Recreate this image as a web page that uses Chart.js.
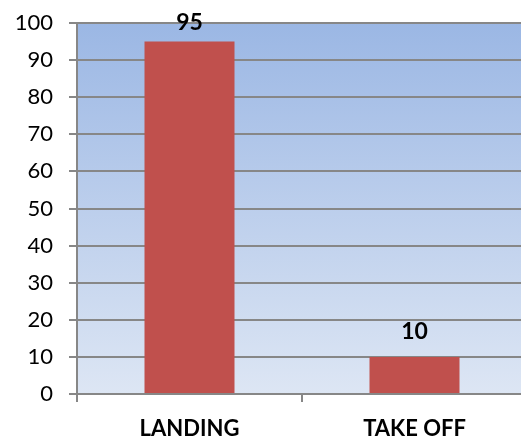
<!DOCTYPE html>
<html>
<head>
<meta charset="utf-8">
<script src="https://cdn.jsdelivr.net/npm/chart.js@4.4.0/dist/chart.umd.min.js"></script>
<style>
  html, body { margin: 0; padding: 0; overflow: hidden; background: #fff; }
  #wrap { position: relative; width: 530px; height: 439px; }
</style>
</head>
<body>
<div id="wrap"><canvas id="c"></canvas></div>
<script>
const categories = ['LANDING', 'TAKE OFF'];
const values = [95, 10];
const yTicks = [0, 10, 20, 30, 40, 50, 60, 70, 80, 90, 100];

const gridGray = '#878787';

// Blue vertical gradient behind the plot area
const plotBackground = {
  id: 'plotBackground',
  beforeDraw(chart) {
    const { ctx, chartArea: a } = chart;
    const g = ctx.createLinearGradient(0, a.top, 0, a.bottom);
    g.addColorStop(0, '#9bb7e4');
    g.addColorStop(1, '#dde6f4');
    ctx.save();
    ctx.fillStyle = g;
    ctx.fillRect(a.left, a.top, a.right - a.left, a.bottom - a.top);
    ctx.restore();
  }
};

// Bold value labels above each bar
const valueLabels = {
  id: 'valueLabels',
  afterDatasetsDraw(chart) {
    const { ctx } = chart;
    const meta = chart.getDatasetMeta(0);
    ctx.save();
    ctx.font = 'bold 23px Lato, "Open Sans", sans-serif';
    ctx.fillStyle = '#000';
    ctx.textAlign = 'center';
    ctx.textBaseline = 'middle';
    meta.data.forEach((bar, i) => {
      const y = Math.max(bar.y - 25, chart.chartArea.top);
      ctx.fillText(String(values[i]), bar.x, y);
    });
    ctx.restore();
  }
};

new Chart(document.getElementById('c'), {
  type: 'bar',
  data: {
    labels: categories,
    datasets: [{
      data: values,
      backgroundColor: '#c0504d',
      borderWidth: 0,
      categoryPercentage: 1,
      barPercentage: 0.4
    }]
  },
  options: {
    responsive: true,
    maintainAspectRatio: false,
    animation: false,
    layout: { padding: { top: 23, right: 3, left: 0, bottom: 0 } },
    plugins: { legend: { display: false }, tooltip: { enabled: false } },
    scales: {
      x: {
        grid: { display: true, drawOnChartArea: false, color: gridGray, lineWidth: 2, tickLength: 8, offset: true },
        border: { color: gridGray, width: 2 },
        ticks: {
          color: '#000',
          font: { family: 'Lato, "Open Sans", sans-serif', size: 22, weight: 'bold' },
          padding: 14
        },
        afterFit(scale) { scale.height = 45; }
      },
      y: {
        min: 0,
        max: 100,
        afterBuildTicks(scale) { scale.ticks = yTicks.map(v => ({ value: v })); },
        grid: { color: gridGray, lineWidth: 2, tickLength: 8 },
        border: { color: gridGray, width: 2 },
        ticks: {
          color: '#000',
          font: { family: 'Lato, "Open Sans", sans-serif', size: 22 },
          padding: 16
        },
        afterFit(scale) {
          scale.width = 77;
          scale.paddingTop = 0;
          scale.paddingBottom = 0;
        }
      }
    }
  },
  plugins: [plotBackground, valueLabels]
});
</script>
</body>
</html>
